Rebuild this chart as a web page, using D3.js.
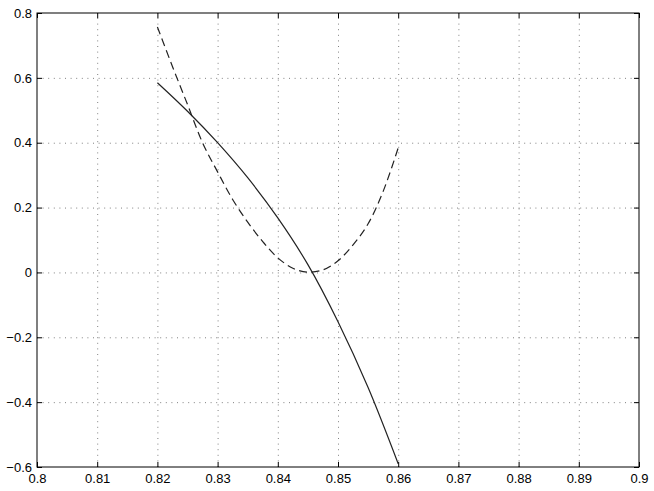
<!DOCTYPE html>
<html>
<head>
    <meta charset="utf-8">
    <style>
      body { margin: 0; background: #fff; }
      text { font-family: "Liberation Sans", Arial, sans-serif; }
      .axis path { stroke: none; }
      .grid path { stroke: none; }
      .grid .tick line { stroke: #808080; stroke-dasharray: 1 4.6; }
    </style>
</head>
<body>
    <script src="https://d3js.org/d3.v7.min.js"></script>
    <script>
        // tick values
        var xTicks = [0.8, 0.81, 0.82, 0.83, 0.84, 0.85, 0.86, 0.87, 0.88, 0.89, 0.9];
        var yTicks = [-0.6, -0.4, -0.2, 0, 0.2, 0.4, 0.6, 0.8];

        // solid curve
        var solidX = [0.82, 0.825, 0.83, 0.835, 0.84, 0.845, 0.85, 0.855, 0.86];
        var solidY = [0.585, 0.497, 0.400, 0.292, 0.168, 0.024, -0.152, -0.355, -0.59];

        // dashed curve
        var dashedX = [0.82, 0.8225, 0.825, 0.8275, 0.83, 0.8325, 0.835, 0.8375, 0.84, 0.8425,
                       0.845, 0.8475, 0.85, 0.8525, 0.855, 0.8575, 0.86];
        var dashedY = [0.757, 0.635, 0.518, 0.400, 0.310, 0.225, 0.155, 0.095, 0.045, 0.013,
                       0.001, 0.008, 0.036, 0.085, 0.150, 0.250, 0.384];

        /*********************************
         * Scales
         *********************************/
        var plotLeft = 37, plotRight = 639, plotTop = 13, plotBottom = 467;
        var plotW = plotRight - plotLeft, plotH = plotBottom - plotTop;

        var xScale = d3.scaleLinear().domain([0.8, 0.9]).range([0, plotW]);
        var yScale = d3.scaleLinear().domain([-0.6, 0.8]).range([plotH, 0]);

        var svg = d3.select("body").append("svg")
            .attr("width", 654)
            .attr("height", 491);

        var g = svg.append("g")
            .attr("transform", "translate(" + plotLeft + "," + plotTop + ")");

        /*********************************
         * Grid
         *********************************/
        g.append("g").attr("class", "grid")
            .attr("transform", "translate(0," + plotH + ")")
            .call(d3.axisBottom(xScale).tickValues(xTicks.slice(1, -1)).tickSize(-plotH).tickFormat(""));

        g.append("g").attr("class", "grid")
            .call(d3.axisLeft(yScale).tickValues(yTicks.slice(1, -1)).tickSize(-plotW).tickFormat(""));

        /*********************************
         * Curves
         *********************************/
        var line = d3.line()
            .x(function(d) { return xScale(d[0]); })
            .y(function(d) { return yScale(d[1]); })
            .curve(d3.curveCatmullRom);

        g.append("path")
            .datum(d3.zip(dashedX, dashedY))
            .attr("d", line)
            .attr("fill", "none")
            .attr("stroke", "#222")
            .attr("stroke-width", 1.2)
            .attr("stroke-dasharray", "8 4.5");

        g.append("path")
            .datum(d3.zip(solidX, solidY))
            .attr("d", line)
            .attr("fill", "none")
            .attr("stroke", "#222")
            .attr("stroke-width", 1.2);

        /*********************************
         * Axes (ticks pointing inward)
         *********************************/
        var fmt = function(d) { return d3.format("")(+d.toFixed(2)); };

        var xAxis = g.append("g").attr("class", "axis")
            .attr("transform", "translate(0," + plotH + ")")
            .call(d3.axisBottom(xScale).tickValues(xTicks).tickSize(-5).tickPadding(7).tickFormat(fmt));
        xAxis.selectAll("text").attr("font-size", 13).attr("fill", "#000");

        g.append("g").attr("class", "axis")
            .call(d3.axisTop(xScale).tickValues(xTicks).tickSize(-5).tickFormat(""));

        var yAxis = g.append("g").attr("class", "axis")
            .call(d3.axisLeft(yScale).tickValues(yTicks).tickSize(-5).tickPadding(5).tickFormat(fmt));
        yAxis.selectAll("text").attr("font-size", 13).attr("fill", "#000");

        g.append("g").attr("class", "axis")
            .attr("transform", "translate(" + plotW + ",0)")
            .call(d3.axisRight(yScale).tickValues(yTicks).tickSize(-5).tickFormat(""));

        // frame
        g.append("rect")
            .attr("x", 0).attr("y", 0)
            .attr("width", plotW).attr("height", plotH)
            .attr("fill", "none")
            .attr("stroke", "#000")
            .attr("stroke-width", 1);
    </script>
</body>
</html>
